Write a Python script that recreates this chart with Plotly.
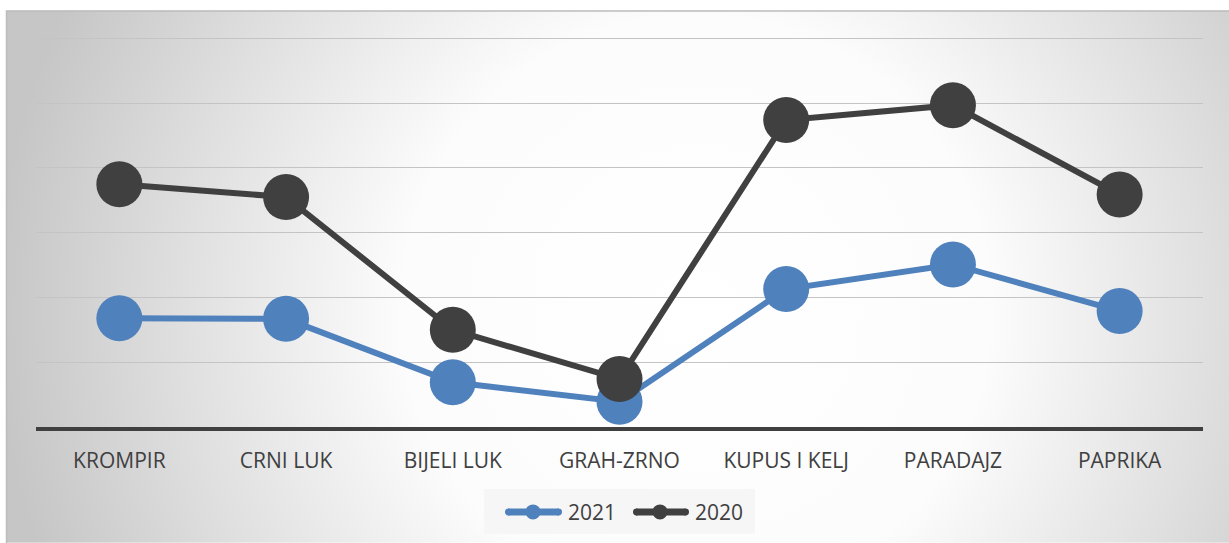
import plotly.graph_objects as go
import base64

categories = ["KROMPIR", "CRNI LUK", "BIJELI LUK", "GRAH-ZRNO", "KUPUS I KELJ", "PARADAJZ", "PAPRIKA"]
values_2021 = [1.68, 1.67, 0.69, 0.39, 2.13, 2.51, 1.79]
values_2020 = [3.75, 3.55, 1.50, 0.74, 4.74, 4.97, 3.59]
series = [("2021", values_2021, "#4F81BD"), ("2020", values_2020, "#404040")]

W, H = 1229, 543
YMAX = 6.1
L, R, B = 36, 26, 116
UNIT = 64.83
T = (H - B) - YMAX * UNIT
pw, ph = W - L - R, H - T - B

svg = ('<svg xmlns="http://www.w3.org/2000/svg" width="1223" height="533" viewBox="0 0 1223 533" preserveAspectRatio="none">'
       '<defs><radialGradient id="g" gradientUnits="userSpaceOnUse" cx="690" cy="300" r="700">'
       '<stop offset="0" stop-color="#ffffff"/><stop offset="0.42" stop-color="#fcfcfc"/>'
       '<stop offset="0.75" stop-color="#dedede"/><stop offset="1" stop-color="#c6c6c6"/>'
       '</radialGradient></defs><rect width="1223" height="533" fill="url(#g)"/></svg>')
src = "data:image/svg+xml;base64," + base64.b64encode(svg.encode()).decode()


def px_x(p):
    return (p - L) / pw


def px_y(p):
    return (H - B - p) / ph


fig = go.Figure()
for name, vals, col in series:
    fig.add_trace(go.Scatter(x=categories, y=vals, name=name, mode="lines+markers",
                             line=dict(color=col, width=6),
                             marker=dict(color=col, size=46), showlegend=False))

fig.add_layout_image(dict(source=src, xref="paper", yref="paper",
                          x=px_x(6), y=px_y(10), sizex=(W - 6) / pw, sizey=(H - 10) / ph,
                          sizing="stretch", xanchor="left", yanchor="top", layer="below"))
fig.add_shape(type="rect", xref="paper", yref="paper",
              x0=px_x(6.5), x1=px_x(W + 5), y0=px_y(10.5), y1=px_y(H + 5),
              line=dict(color="#bcbcbc", width=1.5), fillcolor="rgba(0,0,0,0)", layer="below")

# manual legend
fig.add_shape(type="rect", xref="paper", yref="paper",
              x0=px_x(484), x1=px_x(755), y0=px_y(489), y1=px_y(534),
              line=dict(width=0), fillcolor="rgba(246,246,246,0.95)", layer="below")
ly = px_y(512)
legend_items = [(505, 562, 533, 566), (633, 689, 660, 693)]
for (name, vals, col), (lx0, lx1, mx, tx) in zip(series, legend_items):
    fig.add_shape(type="line", xref="paper", yref="paper", x0=px_x(lx0 + 3), x1=px_x(lx1 - 3),
                  y0=ly, y1=ly, line=dict(color=col, width=7))
    fig.add_shape(type="circle", xref="paper", yref="paper",
                  x0=px_x(mx - 7.5), x1=px_x(mx + 7.5), y0=px_y(512 + 7.5), y1=px_y(512 - 7.5),
                  line=dict(width=0), fillcolor=col)
    fig.add_shape(type="circle", xref="paper", yref="paper",
                  x0=px_x(lx0), x1=px_x(lx0 + 7), y0=px_y(515.5), y1=px_y(508.5),
                  line=dict(width=0), fillcolor=col)
    fig.add_shape(type="circle", xref="paper", yref="paper",
                  x0=px_x(lx1 - 7), x1=px_x(lx1), y0=px_y(515.5), y1=px_y(508.5),
                  line=dict(width=0), fillcolor=col)
    fig.add_annotation(text=name, xref="paper", yref="paper", x=px_x(tx), y=ly,
                       xanchor="left", yanchor="middle", showarrow=False,
                       font=dict(size=21, color="#404040"))

fig.update_layout(
    width=W, height=H,
    margin=dict(l=L, r=R, t=T, b=B, pad=0),
    paper_bgcolor="white",
    plot_bgcolor="rgba(0,0,0,0)",
    font=dict(family="Open Sans, Liberation Sans, sans-serif", color="#404040"),
    showlegend=False,
    xaxis=dict(showgrid=False, showline=True, linecolor="#404040", linewidth=3.5,
               ticks="outside", ticklen=12, tickcolor="rgba(0,0,0,0)",
               tickfont=dict(size=21, color="#404040"), fixedrange=True,
               range=[-0.5, 6.5]),
    yaxis=dict(range=[0, YMAX], tickvals=[1, 2, 3, 4, 5, 6], showgrid=True,
               gridcolor="#c4c4c4", gridwidth=1.2,
               showticklabels=False, zeroline=False, showline=False, fixedrange=True),
)

fig.write_html("out.html", config={"displayModeBar": False},
               post_script="document.body.style.margin='0';")
